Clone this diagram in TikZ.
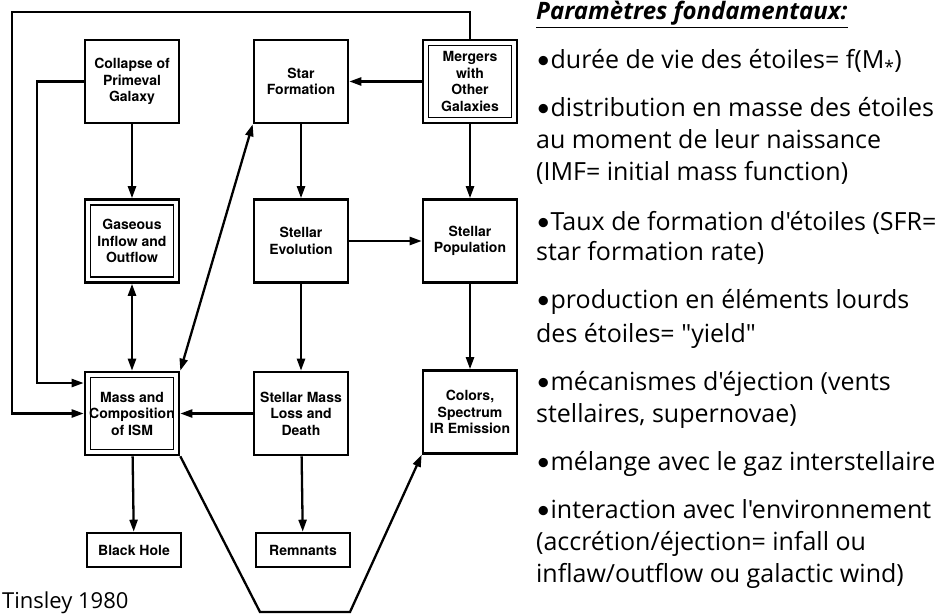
\documentclass[tikz,border=0pt]{standalone}
\usepackage{fontspec}
\setmainfont{TeX Gyre Heros}
\newfontfamily\parfont{Open Sans}
\newfontfamily\bulfont{Lato}
\newcommand{\blt}{{\bulfont •}}
\usetikzlibrary{arrows.meta,positioning,calc}

\begin{document}
\begin{tikzpicture}[
  x=1pt, y=-1pt, >={Triangle[length=12pt,width=8pt]}, line width=2.3pt,
  box/.style={rectangle, draw, line width=2.6pt, minimum width=94pt, minimum height=83pt,
    inner sep=2pt, align=center, font=\fontsize{14}{16.5}\selectfont\bfseries},
  dbox/.style={box, path picture={\draw[line width=1.8pt]
    ([shift={(5.5pt,-5.5pt)}]path picture bounding box.north west) rectangle
    ([shift={(-5.5pt,5.5pt)}]path picture bounding box.south east);}},
  lowbox/.style={box, minimum height=34pt},
  para/.style={anchor=base west, inner sep=0pt, font=\parfont\fontsize{25}{30}\selectfont},
]
  \useasboundingbox (0,0) rectangle (942,615);
  \fill[white] (0,0) rectangle (942,615);

  % boxes
  \node[box]  (collapse)  at (132,81.5) {Collapse of\\Primeval\\Galaxy};
  \node[box]  (starform)  at (301,81.5) {Star\\Formation};
  \node[dbox] (mergers)   at (470,81.5) {Mergers\\with\\Other\\Galaxies};
  \node[dbox] (gaseous)   at (132,241) {Gaseous\\Inflow and\\Outflow};
  \node[box]  (stelevo)   at (301,241) {Stellar\\Evolution};
  \node[box]  (stelpop)   at (470,241) {Stellar\\Population};
  \node[dbox] (ism)       at (132,413.5) {Mass and\\Composition\\of ISM};
  \node[box]  (massloss)  at (301,413.5) {Stellar Mass\\Loss and\\Death};
  \node[box]  (colors)    at (470,412) {Colors,\\Spectrum\\IR Emission};
  \node[lowbox] (blackhole) at (134,550) {Black Hole};
  \node[lowbox] (remnants)  at (303,550) {Remnants};

  \coordinate (loopnw) at (12,12);
  \coordinate (colbend) at (37,383);
  \coordinate (vleft) at (260,612);
  \coordinate (vright) at (350,612);

  % connectors
  \draw[->] (mergers.north) |- (loopnw) |- (ism.west);
  \draw[->] (collapse.west) -| (colbend) -- (colbend -| ism.west);
  \draw[->] (mergers.west) -- (starform.east);
  \draw[->] (collapse) -- (gaseous);
  \draw[->] (starform) -- (stelevo);
  \draw[->] (mergers) -- (stelpop);
  \draw[->] (stelevo) -- (stelpop);
  \draw[<->] (gaseous) -- (ism);
  \draw[<->] (ism.north east) -- (starform.south west);
  \draw[->] (stelevo) -- (massloss);
  \draw[->] (stelpop) -- (colors);
  \draw[->] (massloss) -- (ism);
  \draw[->] (ism) -- (blackhole);
  \draw[->] (massloss) -- (remnants);
  \draw[->] (ism.south east) -- (vleft) -- (vright) -- (colors.south west);

  % parameters
  \node[para, font=\parfont\bfseries\itshape\fontsize{24}{26}\selectfont] (title) at (535,20)
    {\underline{Paramètres fondamentaux:}};
  \node[para] (p1a) at (535,69) {\blt durée de vie des étoiles= f(M\textsubscript{*})};
  \node[para] (p2a) at (535,117) {\blt distribution en masse des étoiles};
  \node[para] (p2b) at (535,149) {au moment de leur naissance};
  \node[para] (p2c) at (535,180) {(IMF= initial mass function)};
  \node[para] (p3a) at (535,230) {\blt Taux de formation d'étoiles (SFR=};
  \node[para] (p3b) at (535,260) {star formation rate)};
  \node[para] (p4a) at (535,308) {\blt production en éléments lourds};
  \node[para] (p4b) at (535,342) {des étoiles= "yield"};
  \node[para] (p5a) at (535,390) {\blt mécanismes d'éjection (vents};
  \node[para] (p5b) at (535,422) {stellaires, supernovae)};
  \node[para] (p6a) at (535,470) {\blt mélange avec le gaz interstellaire};
  \node[para] (p7a) at (535,518) {\blt interaction avec l'environnement};
  \node[para] (p7b) at (535,550) {(accrétion/éjection= infall ou};
  \node[para] (p7c) at (535,582) {inflaw/outflow ou galactic wind)};

  \node[para, font=\parfont\fontsize{22}{24}\selectfont] (src) at (1,608) {Tinsley 1980};
\end{tikzpicture}
\end{document}
